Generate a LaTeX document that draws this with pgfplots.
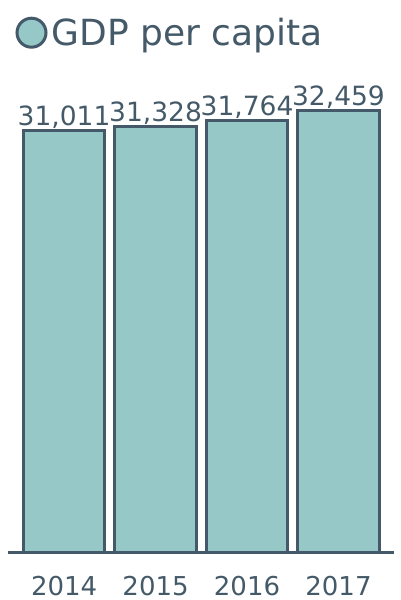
\documentclass[border=0pt]{standalone}
\usepackage{fontspec}
\setmainfont{DejaVu Sans}
\usepackage{pgfplots}
\pgfplotsset{compat=1.18}
\definecolor{txt}{HTML}{455A68}
\definecolor{edge}{HTML}{44596A}
\definecolor{barfill}{HTML}{96C8C8}
\begin{document}
\begin{tikzpicture}
\path[use as bounding box] (0,0) rectangle (400pt,600pt);
\begin{axis}[
  at={(8.3pt,47.3pt)}, anchor=south west, scale only axis,
  width=386pt, height=450pt,
  xmin=-0.61, xmax=3.61, ymin=0, ymax=33064,
  clip=false,
  axis x line=bottom, axis y line=none,
  x axis line style={-, draw=edge, line width=3pt},
  xtick={0,1,2,3}, xticklabels={2014,2015,2016,2017},
  major tick length=0pt, ytick=\empty,
  xticklabel style={font=\fontsize{26}{30}\selectfont, text=txt, anchor=north, inner sep=0pt, yshift=-23pt},
  /pgf/number format/assume math mode=true,
  /pgf/number format/1000 sep={,},
  legend style={draw=none, fill=none, at={(0,1)}, anchor=west, xshift=7pt, yshift=70pt,
    font=\fontsize{36}{42}\selectfont, text=txt, inner sep=0pt},
  legend image code/.code={\draw[fill=barfill, draw=edge, line width=3pt] (0pt,0pt) circle (14.5pt); \path (17pt,0pt);},
]
\addplot[ybar, bar width=81.5pt, fill=barfill, draw=edge, line width=3pt,
  nodes near coords,
  every node near coord/.append style={font=\fontsize{26.5}{30}\selectfont, text=txt, anchor=base, inner sep=0pt, yshift=5pt}]
  coordinates {(0,31011) (1,31328) (2,31764) (3,32459)};
\addlegendentry{GDP per capita}
\end{axis}
\end{tikzpicture}
\end{document}
